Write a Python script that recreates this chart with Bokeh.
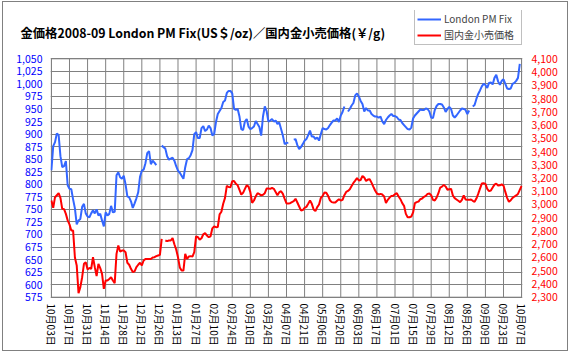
import math
from bokeh.plotting import figure
from bokeh.models import (Range1d, LinearAxis, NumeralTickFormatter, FixedTicker,
                          Legend, LegendItem)
from bokeh.embed import file_html
from bokeh.resources import INLINE

NaN = float("nan")

# x tick labels (one every 10 trading days)
tick_labels = ["10月03日", "10月17日", "10月31日", "11月14日", "11月28日", "12月12日",
               "12月26日", "01月13日", "01月27日", "02月10日", "02月24日", "03月10日",
               "03月24日", "04月07日", "04月21日", "05月06日", "05月20日", "06月03日",
               "06月17日", "07月01日", "07月15日", "07月29日", "08月12日", "08月26日",
               "09月09日", "09月23日", "10月07日"]

# London PM Fix (US$/oz), one value per trading day (NaN = no fix)
london_fix = [
    828, 876, 884, 901, 898, 856, 834, 836, 846, 798,
    791, 790, 770, 752, 720, 728, 731, 755, 761, 742,
    736, 734, 742, 748, 742, 750, 738, 741, 728, 716,
    744, 738, 741, 757, 744, 745, 818, 824, 814, 811,
    817, 800, 776, 774, 766, 753, 762, 772, 784, 815,
    827, 829, 842, 862, 866, 840, 847, 843, 838, NaN,
    NaN, 877, 874, 871, 856, 849, 851, 853, 847, 836,
    827, 823, 817, 811, 834, 850, 852, 858, 868, 900,
    904, 892, 892, 912, 916, 906, 909, 917, 912, 897,
    900, 924, 940, 946, 952, 964, 967, 982, 986, 986,
    981, 950, 948, 950, 935, 910, 908, 925, 930, 915,
    910, 912, 915, 926, 920, 914, 897, 935, 955, 946,
    925, 927, 930, 925, 927, 920, 923, 910, 897, 880,
    882, 883, NaN, NaN, 889, 890, 878, 870, 874, 880,
    887, 890, 898, 907, 895, 895, 890, 893, 887, 900,
    912, 910, 909, 912, 918, 923, 927, 927, 931, 924,
    937, 944, 955, NaN, 945, 950, 957, 962, 977, 981,
    975, 966, 960, 945, 952, 947, 947, 940, 937, 935,
    935, 933, 935, 925, 920, 928, 933, 937, 940, 936,
    936, 934, 929, 928, 922, 918, 914, 910, 909, 913,
    931, 937, 941, 945, 949, 948, 948, 951, 950, 945,
    933, 932, 948, 956, 960, 960, 959, 953, 944, 950,
    954, 950, 937, 933, 937, 942, 947, 951, 950, 948,
    940, 947, NaN, 955, 958, 970, 980, 987, 995, 1000,
    998, 992, 1002, 1003, 999, 1012, 1018, 1005, 998, 1006,
    1009, 1000, 991, 990, 991, 1000, 1002, 1006, 1012, 1040,
    NaN,
]

# Domestic retail gold price (JPY/g)
retail_jpy = [
    3030, 2975, 3055, 3070, 3085, 3050, 2967, 2965, 2929, 2880,
    2850, 2803, 2803, 2600, 2540, 2330, 2376, 2451, 2552, 2564,
    2510, 2520, 2515, 2602, 2527, 2460, 2552, 2520, 2476, 2363,
    2426, 2426, 2438, 2451, 2426, 2406, 2627, 2690, 2645, 2652,
    2652, 2640, 2560, 2545, 2514, 2490, 2495, 2527, 2545, 2560,
    2540, 2577, 2589, 2589, 2589, 2589, 2600, 2602, 2610, 2615,
    2620, 2740, NaN, 2728, 2723, 2728, 2728, 2746, 2700, 2660,
    2602, 2525, 2501, 2501, 2627, 2590, 2607, 2610, 2607, 2640,
    2760, 2753, 2735, 2745, 2775, 2785, 2765, 2753, 2760, 2820,
    2835, 2829, 2830, 2925, 2945, 3005, 3050, 3140, 3132, 3131,
    3175, 3178, 3156, 3145, 3110, 3075, 3088, 3118, 3145, 3135,
    3093, 3012, 3030, 3062, 3085, 3078, 3069, 3073, 3085, 3120,
    3121, 3118, 3125, 3118, 3095, 3070, 3093, 3100, 3080, 3043,
    3008, 3008, 3010, 3018, 3025, 3043, 3015, 2985, 2955, 2958,
    2975, 2982, 3005, 3030, 3005, 2962, 2950, 2980, 3000, 3050,
    3065, 3090, 3088, 3065, 3032, 3018, 3015, 3015, 3028, 3040,
    3030, 3035, 3070, 3095, 3102, 3115, 3140, 3163, 3180, 3200,
    3181, 3185, 3216, 3204, 3178, 3188, 3191, 3165, 3135, 3106,
    3083, 3076, 3080, 3075, 3060, 3012, 3035, 3052, 3065, 3066,
    3078, 3085, 3060, 3040, 3010, 2990, 2929, 2904, 2904, 2909,
    2940, 3010, 3018, 3022, 3040, 3045, 3058, 3065, 3080, 3083,
    3070, 3035, 3030, 3052, 3085, 3128, 3135, 3148, 3135, 3111,
    3115, 3118, 3068, 3048, 3038, 3028, 3018, 3035, 3068, 3038,
    3035, 3035, 3038, 3028, 3020, 3045, 3080, 3120, 3158, 3161,
    3156, 3118, 3101, 3105, 3128, 3150, 3158, 3143, 3145, 3152,
    3143, 3095, 3050, 3020, 3032, 3050, 3060, 3068, 3080, 3110,
    3140,
]

day_index = list(range(len(london_fix)))
usd_ticks = list(range(575, 1051, 25))
jpy_ticks = list(range(2300, 4101, 100))
label_step = 10

title_text = "金価格2008-09 London PM Fix(US＄/oz)／国内金小売価格(￥/g)"

GRID = "#808080"
BLUE = "#3366FF"
RED = "#FF0000"
JP_FONT = "Noto Sans CJK JP"

# ---- layout (pixels, relative to the figure's content box) ----
W, H = 566, 350
FRAME_TOP, FRAME_BOTTOM = 8, 296           # frame extended upward to host the legend
AREA_TOP, AREA_BOTTOM = 56.3, 294.7        # where the value axes start / end
FRAME_LEFT, FRAME_RIGHT = 47, 519
X_PAD = 0.5                                # index padding so the plot border is not clipped

usd_lo, usd_hi = usd_ticks[0], usd_ticks[-1]
jpy_lo, jpy_hi = jpy_ticks[0], jpy_ticks[-1]
usd_per_px = (usd_hi - usd_lo) / (AREA_BOTTOM - AREA_TOP)
jpy_per_px = (jpy_hi - jpy_lo) / (AREA_BOTTOM - AREA_TOP)
usd_range = Range1d(usd_lo - (FRAME_BOTTOM - AREA_BOTTOM) * usd_per_px,
                    usd_hi + (AREA_TOP - FRAME_TOP) * usd_per_px)
jpy_range = Range1d(jpy_lo - (FRAME_BOTTOM - AREA_BOTTOM) * jpy_per_px,
                    jpy_hi + (AREA_TOP - FRAME_TOP) * jpy_per_px)

p = figure(width=W, height=H, output_backend="svg", toolbar_location=None,
           x_range=Range1d(day_index[0] - X_PAD, day_index[-1] + X_PAD),
           y_range=usd_range,
           min_border_left=FRAME_LEFT, min_border_right=W - FRAME_RIGHT,
           min_border_top=FRAME_TOP, min_border_bottom=H - FRAME_BOTTOM,
           title=title_text)
p.extra_y_ranges = {"jpy": jpy_range}
p.styles = {"border": "1px solid #808080", "margin": "1px 0 0 2px"}

p.background_fill_color = "white"
p.border_fill_color = "white"
p.outline_line_color = None

p.title.align = "left"
p.title.offset = -30
p.title.text_font = JP_FONT
p.title.text_font_size = "12.3px"
p.title.text_font_style = "bold"
p.title.text_color = "black"
p.title.standoff = 2 * (FRAME_TOP - 39)

# grids: horizontal from the grid, vertical as segments limited to the plot area
x_ticks = list(range(0, len(day_index), label_step))
p.xgrid.visible = False
p.ygrid.ticker = FixedTicker(ticks=usd_ticks)
p.ygrid.grid_line_color = GRID
p.ygrid.grid_line_width = 1
p.ygrid.grid_line_alpha = 1.0
p.segment(x0=x_ticks, y0=[usd_lo] * len(x_ticks), x1=x_ticks, y1=[usd_hi] * len(x_ticks),
          line_color=GRID, line_width=1, level="underlay")
# plot-area border
p.quad(left=[day_index[0]], right=[day_index[-1]], bottom=[usd_lo], top=[usd_hi],
       fill_color=None, line_color=GRID, line_width=1, level="underlay")

# x axis
xa = p.xaxis[0]
xa.ticker = FixedTicker(ticks=x_ticks)
xa.major_label_overrides = {t: lab for t, lab in zip(x_ticks, tick_labels)}
xa.major_label_orientation = -math.pi / 2
xa.major_label_text_font = JP_FONT
xa.major_label_text_font_size = "10px"
xa.major_label_text_color = "black"
xa.major_label_standoff = 5
xa.major_tick_in = 0
xa.major_tick_out = 0
xa.minor_tick_in = 0
xa.minor_tick_out = 0
xa.axis_line_color = None

# left axis
ya = p.yaxis[0]
ya.ticker = FixedTicker(ticks=usd_ticks)
ya.formatter = NumeralTickFormatter(format="0,0")
ya.major_label_text_color = "#0000FF"
ya.major_label_text_font = JP_FONT
ya.major_label_text_font_size = "10.5px"
ya.major_label_standoff = 8
ya.major_tick_in = 0
ya.major_tick_out = 0
ya.minor_tick_in = 0
ya.minor_tick_out = 0
ya.axis_line_color = None

# right axis
ra = LinearAxis(y_range_name="jpy", ticker=FixedTicker(ticks=jpy_ticks),
                formatter=NumeralTickFormatter(format="0,0"))
ra.major_label_text_color = RED
ra.major_label_text_font = JP_FONT
ra.major_label_text_font_size = "10.5px"
ra.major_label_standoff = 9
ra.major_tick_in = 0
ra.major_tick_out = 0
ra.minor_tick_in = 0
ra.minor_tick_out = 0
ra.axis_line_color = None
p.add_layout(ra, "right")

blue = p.line(day_index, london_fix, line_color=BLUE, line_width=2)
red = p.line(day_index, retail_jpy, line_color=RED, line_width=2, y_range_name="jpy")

LEGEND_W = 106
legend = Legend(items=[LegendItem(label="London PM Fix", renderers=[blue]),
                       LegendItem(label="国内金小売価格", renderers=[red])],
                location=(FRAME_RIGHT - 2 - FRAME_LEFT - LEGEND_W, FRAME_BOTTOM - 43))
legend.label_text_font = JP_FONT
legend.label_text_font_size = "10px"
legend.glyph_width = 24
legend.glyph_height = 12
legend.label_height = 12
legend.label_width = 75
legend.label_standoff = 3
legend.spacing = 1
legend.padding = 2
legend.margin = 0
legend.border_line_color = GRID
legend.border_line_width = 1
legend.background_fill_color = "white"
p.add_layout(legend)

open("out.html", "w").write(file_html(p, INLINE))
